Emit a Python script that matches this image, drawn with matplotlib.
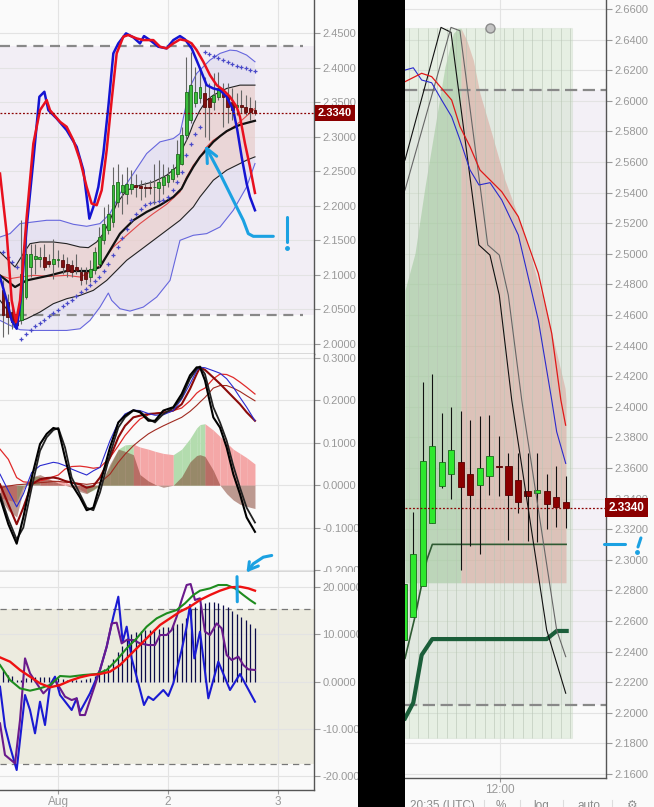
import numpy as np
import matplotlib.pyplot as plt
from matplotlib.patches import Rectangle
from matplotlib.lines import Line2D

plt.rcParams['font.family'] = ['Liberation Sans', 'DejaVu Sans']

# ---------------- left chart: hourly candles, x = hours after Aug 1 00:00 ----------------
candle_hours = np.arange(-12, 44)
opens = [2.0776, 2.0607, 2.0462, 2.0438, 2.0341, 2.0679, 2.1114, 2.1235, 2.1235, 2.1258,
         2.1196, 2.1162, 2.1211, 2.1220, 2.1162, 2.1138, 2.1114, 2.1041, 2.1041, 2.0969,
         2.1065, 2.1162, 2.1500, 2.1645, 2.1766, 2.2056, 2.2201, 2.2176, 2.2249, 2.2297,
         2.2283, 2.2273, 2.2273, 2.2268, 2.2263, 2.2297, 2.2346, 2.2394, 2.2466, 2.2611,
         2.3022, 2.3239, 2.3481, 2.3553, 2.3625, 2.3553, 2.3505, 2.3577, 2.3625, 2.3601,
         2.3505, 2.3432, 2.3456, 2.3432, 2.3408, 2.3384]
closes = [2.0414, 2.0390, 2.0317, 2.0269, 2.1017, 2.1307, 2.1307, 2.1268, 2.1258, 2.1114,
          2.1162, 2.1235, 2.1230, 2.1114, 2.1056, 2.1041, 2.1075, 2.0920, 2.0945, 2.1089,
          2.1331, 2.1548, 2.1742, 2.1887, 2.2297, 2.2346, 2.2297, 2.2321, 2.2311, 2.2273,
          2.2263, 2.2263, 2.2263, 2.2273, 2.2346, 2.2418, 2.2442, 2.2539, 2.2756, 2.3022,
          2.3650, 2.3746, 2.3650, 2.3712, 2.3432, 2.3432, 2.3601, 2.3698, 2.3577, 2.3432,
          2.3384, 2.3456, 2.3432, 2.3360, 2.3360, 2.3340]
highs = [2.0920, 2.0728, 2.0534, 2.0486, 2.1790, 2.1838, 2.1452, 2.1452, 2.1403, 2.1452,
         2.1307, 2.1524, 2.1355, 2.1307, 2.1258, 2.1211, 2.1307, 2.1114, 2.1114, 2.1211,
         2.1403, 2.1693, 2.1983, 2.2032, 2.2563, 2.2611, 2.2466, 2.2563, 2.2514, 2.2466,
         2.2370, 2.2346, 2.2370, 2.2611, 2.2659, 2.2611, 2.2563, 2.2611, 2.2949, 2.3143,
         2.4157, 2.4229, 2.4012, 2.3964, 2.3867, 2.3770, 2.3915, 2.3940, 2.3770, 2.3770,
         2.3698, 2.3625, 2.3674, 2.3601, 2.3577, 2.3529]
lows = [2.0100, 2.0148, 2.0220, 2.0245, 2.0293, 2.0655, 2.0969, 2.1017, 2.1114, 2.1065,
        2.1114, 2.0945, 2.1114, 2.1017, 2.0969, 2.0969, 2.1017, 2.0848, 2.0872, 2.0896,
        2.1017, 2.1114, 2.1452, 2.1597, 2.1693, 2.1983, 2.1887, 2.2032, 2.2176, 2.2128,
        2.2080, 2.2128, 2.2176, 2.2032, 2.2080, 2.2176, 2.2273, 2.2346, 2.2418, 2.2587,
        2.2949, 2.3191, 2.3432, 2.3481, 2.2998, 2.2949, 2.3384, 2.3529, 2.3143, 2.3191,
        2.3239, 2.3312, 2.3336, 2.3312, 2.3239, 2.3312]
psar = [2.1331, 2.1258, 2.1186, 2.1114, 2.0076, 2.0148, 2.0196, 2.0254, 2.0303, 2.0351,
        2.0399, 2.0448, 2.0496, 2.0544, 2.0592, 2.0641, 2.0689, 2.0747, 2.0795, 2.0848,
        2.0906, 2.0969, 2.1056, 2.1162, 2.1283, 2.1404, 2.1539, 2.1669, 2.1790, 2.1887,
        2.1959, 2.2008, 2.2041, 2.2061, 2.2066, 2.2080, 2.2128, 2.2225, 2.2346, 2.2491,
        2.2732, 2.2901, 2.3046, 2.3143, 2.4229, 2.4196, 2.4167, 2.4133, 2.4104, 2.4075,
        2.4051, 2.4026, 2.4007, 2.3988, 2.3968, 2.3954]
last_price = 2.3340
day_ticks = [0, 24, 48]
day_labels = ['Aug', '2', '3']
range_hi, range_lo = 2.4311, 2.0413

# fast / slow lines drawn over price
fast_x = [-12.66, -11.20, -10.11, -9.02, -8.15, -6.84, -5.38, -4.07, -2.98, -2.11, -0.29, 1.89, 4.07,
          5.53, 6.84, 7.71, 8.80, 9.89, 10.98, 12.07, 13.16, 14.84, 16.44, 17.89, 18.76, 20.07,
          21.89, 23.71, 25.16, 26.62, 27.71, 29.16, 30.98, 32.44, 33.89, 35.35, 36.80, 38.25,
          39.13, 40.07, 41.16, 41.89, 42.98]
fast_y = [2.0969, 2.0631, 2.0341, 2.0220, 2.0631, 2.1693, 2.2660, 2.3577, 2.3650, 2.3384, 2.3263,
          2.3094, 2.2853, 2.2515, 2.1814, 2.1983, 2.2273, 2.2756, 2.3432, 2.4205, 2.4350, 2.4495,
          2.4437, 2.4350, 2.4456, 2.4398, 2.4302, 2.4278, 2.4398, 2.4456, 2.4408, 2.4278, 2.3988,
          2.3746, 2.3698, 2.3674, 2.3577, 2.3384, 2.3094, 2.2708, 2.2321, 2.2128, 2.1935]
slow_x = [-12.66, -11.20, -10.11, -9.17, -8.29, -6.84, -5.38, -3.93, -2.47, -1.75, 0.44, 1.89, 3.34,
          4.80, 6.25, 7.34, 8.44, 9.53, 10.62, 11.71, 12.80, 14.25, 15.34, 17.16, 18.62, 20.80,
          22.25, 23.71, 25.16, 26.62, 28.07, 29.16, 30.25, 31.71, 33.16, 34.62, 36.07, 37.53,
          38.98, 39.71, 40.80, 41.89, 42.98]
slow_y = [2.2466, 2.1597, 2.0631, 2.0317, 2.0631, 2.1838, 2.2901, 2.3384, 2.3529, 2.3384, 2.3215,
          2.3143, 2.2949, 2.2660, 2.2273, 2.2032, 2.2008, 2.2225, 2.2804, 2.3529, 2.4205, 2.4447,
          2.4471, 2.4422, 2.4398, 2.4398, 2.4302, 2.4278, 2.4350, 2.4408, 2.4389, 2.4350, 2.4253,
          2.4084, 2.3891, 2.3746, 2.3674, 2.3577, 2.3432, 2.3287, 2.2901, 2.2563, 2.2186]

# moving average and envelope
mid_x = [-12.66, -9.38, -6.84, -1.75, 1.89, 6.98, 9.16, 11.34, 13.53, 16.44, 19.34, 22.25, 25.16,
         26.98, 28.07, 29.53, 30.98, 32.44, 33.89, 35.35, 36.80, 38.25, 39.71, 41.53, 42.98]
mid_y = [2.0993, 2.0824, 2.0920, 2.0993, 2.1056, 2.1056, 2.1114, 2.1355, 2.1597, 2.1790, 2.1911,
         2.2008, 2.2128, 2.2249, 2.2394, 2.2563, 2.2708, 2.2814, 2.2925, 2.3007, 2.3080, 2.3128,
         2.3172, 2.3205, 2.3230]
env_up_x = [-12.66, -9.38, -7.57, -6.11, -3.93, -1.02, 1.89, 4.80, 6.62, 8.44, 9.89, 11.34, 12.80,
            14.98, 17.89, 20.80, 23.71, 25.89, 27.34, 28.43, 29.53, 30.98, 32.44, 33.89, 35.35,
            36.80, 38.25, 39.71, 42.98]
env_up_y = [2.1331, 2.1114, 2.1307, 2.1452, 2.1476, 2.1476, 2.1452, 2.1403, 2.1394, 2.1476, 2.1597,
            2.1790, 2.2032, 2.2225, 2.2297, 2.2346, 2.2442, 2.2563, 2.2853, 2.2998, 2.3191, 2.3384,
            2.3529, 2.3601, 2.3650, 2.3698, 2.3722, 2.3746, 2.3746]
env_lo_x = [-12.66, -9.02, -6.84, -3.93, -1.02, 1.89, 4.80, 7.71, 10.62, 12.80, 14.98, 17.89, 20.80,
            23.71, 26.62, 29.53, 30.98, 32.44, 33.89, 35.35, 36.80, 38.25, 39.71, 41.16, 42.98]
env_lo_y = [2.0631, 2.0317, 2.0365, 2.0462, 2.0583, 2.0655, 2.0703, 2.0776, 2.0920, 2.1065, 2.1211,
            2.1355, 2.1500, 2.1645, 2.1790, 2.1983, 2.2128, 2.2249, 2.2370, 2.2442, 2.2515, 2.2563,
            2.2611, 2.2660, 2.2708]
ema_x = [-12.66, -10.47, -8.29, -5.38, -1.75, 1.89, 4.80, 6.98, 9.16, 12.07, 14.98, 17.89, 20.80,
         23.71, 26.62, 28.07, 29.53, 30.98, 32.44, 33.89, 36.80, 39.71, 42.98]
ema_y = [2.0993, 2.0945, 2.0969, 2.0993, 2.0979, 2.0993, 2.0969, 2.1041, 2.1138, 2.1403, 2.1573,
         2.1742, 2.1887, 2.2022, 2.2201, 2.2418, 2.2587, 2.2708, 2.2853, 2.2949, 2.3070, 2.3215,
         2.3408]
bb_up_x = [-12.66, -10.47, -8.29, -5.38, -2.47, 0.44, 3.34, 6.25, 9.16, 11.34, 13.53, 16.44, 19.34,
           22.25, 25.16, 26.62, 27.71, 28.80, 30.25, 31.71, 33.16, 35.35, 37.53, 38.98, 41.16, 42.98]
bb_up_y = [2.1548, 2.1597, 2.1742, 2.1766, 2.1790, 2.1790, 2.1732, 2.1703, 2.1742, 2.1887, 2.2176,
           2.2466, 2.2756, 2.2925, 2.2973, 2.3046, 2.3384, 2.3722, 2.3915, 2.4012, 2.4109, 2.4205,
           2.4253, 2.4244, 2.4181, 2.4084]
bb_lo_x = [-12.66, -10.47, -8.29, -5.38, -1.75, 1.89, 4.80, 6.98, 9.16, 10.98, 11.71, 13.53, 15.71,
           18.62, 21.53, 24.44, 26.62, 29.53, 32.44, 35.35, 38.25, 41.16, 42.98]
bb_lo_y = [2.0341, 2.0269, 2.0206, 2.0196, 2.0196, 2.0196, 2.0220, 2.0341, 2.0534, 2.0737, 2.0631,
           2.0510, 2.0476, 2.0534, 2.0679, 2.0920, 2.1500, 2.1573, 2.1597, 2.1693, 2.1935, 2.2273,
           2.2611]

# ---------------- middle pane (oscillator) ----------------
osc_x = [-12.66, -10.84, -9.02, -7.57, -5.75, -3.93, -2.47, -1.02, 0.07, 1.53, 2.98, 4.80, 6.25,
         7.71, 9.16, 11.34, 13.16, 14.62, 16.44, 17.89, 19.71, 21.16, 22.98, 25.16, 26.98, 28.80,
         30.25, 30.98, 32.07, 33.89, 35.35, 36.80, 38.25, 39.71, 41.16, 42.98]
osc_fast1 = [-0.029, -0.092, -0.138, -0.076, 0.018, 0.097, 0.121, 0.135, 0.132, 0.065, 0.002, -0.029,
             -0.059, -0.053, 0.002, 0.089, 0.148, 0.164, 0.177, 0.172, 0.152, 0.152, 0.176, 0.184,
             0.215, 0.259, 0.278, 0.278, 0.247, 0.160, 0.136, 0.089, 0.026, -0.021, -0.076, -0.110]
osc_fast2 = [-0.021, -0.080, -0.128, -0.100, -0.006, 0.081, 0.113, 0.130, 0.135, 0.089, 0.018, -0.021,
             -0.053, -0.059, -0.017, 0.073, 0.136, 0.160, 0.176, 0.174, 0.156, 0.148, 0.168, 0.182,
             0.207, 0.251, 0.274, 0.280, 0.262, 0.184, 0.148, 0.105, 0.046, -0.006, -0.053, -0.088]
osc_blue = [0.026, -0.013, -0.051, -0.021, 0.030, 0.046, 0.050, 0.054, 0.052, 0.046, 0.038, 0.030,
            0.024, 0.034, 0.042, 0.105, 0.148, 0.168, 0.177, 0.176, 0.169, 0.165, 0.166, 0.176,
            0.203, 0.239, 0.270, 0.278, 0.277, 0.270, 0.264, 0.251, 0.231, 0.207, 0.184, 0.152]
osc_darkred = [0.002, -0.045, -0.092, -0.053, 0.002, 0.014, 0.017, 0.018, 0.016, 0.010, 0.006, 0.002,
               -0.006, -0.002, 0.018, 0.065, 0.113, 0.140, 0.160, 0.164, 0.168, 0.169, 0.171, 0.176,
               0.191, 0.227, 0.262, 0.278, 0.272, 0.254, 0.239, 0.223, 0.207, 0.191, 0.172, 0.152]
osc_red = [0.085, 0.061, 0.018, 0.008, 0.006, 0.010, 0.014, 0.020, 0.024, 0.038, 0.044, 0.045,
           0.043, 0.040, 0.042, 0.065, 0.093, 0.117, 0.140, 0.156, 0.166, 0.169, 0.172, 0.176,
           0.182, 0.199, 0.217, 0.223, 0.229, 0.251, 0.262, 0.261, 0.254, 0.243, 0.231, 0.215]
osc_brown = [-0.006, -0.002, 0.001, 0.002, 0.004, 0.006, 0.007, 0.009, 0.009, 0.007, 0.006, 0.004,
             0.002, 0.004, 0.006, 0.026, 0.054, 0.073, 0.093, 0.106, 0.121, 0.130, 0.140, 0.151,
             0.160, 0.174, 0.188, 0.196, 0.207, 0.229, 0.235, 0.235, 0.229, 0.221, 0.211, 0.199]
hist_a = [-0.030, -0.035, -0.040, 0.000, 0.020, 0.020, 0.015, 0.012, 0.010, 0.008, 0.000, -0.010,
          -0.018, -0.012, 0.000, 0.045, 0.085, 0.095, 0.097, 0.090, 0.085, 0.080, 0.075, 0.072,
          0.085, 0.110, 0.135, 0.143, 0.145, 0.130, 0.115, 0.100, 0.085, 0.075, 0.065, 0.050]
hist_b = [-0.030, -0.060, -0.075, -0.010, 0.020, 0.025, 0.018, 0.010, 0.005, 0.000, -0.005, -0.015,
          -0.020, -0.010, 0.000, 0.050, 0.085, 0.080, 0.072, 0.025, 0.010, 0.002, -0.005, 0.000,
          0.020, 0.055, 0.070, 0.072, 0.068, 0.035, 0.000, -0.020, -0.035, -0.045, -0.050, -0.055]

# ---------------- bottom pane ----------------
bar_vals = [2.5, 1.4, 1.1, 0.4, 0.4, 0.7, 0.9, 0.9, 0.9, 0.9,
            0.9, 0.7, 0.7, 0.5, 0.4, 0.35, 0.3, 0.3, 0.5, 0.7,
            1.2, 1.8, 2.6, 3.5, 4.9, 6.3, 7.5, 9.2, 10.1, 10.6,
            10.7, 10.9, 10.9, 11.1, 11.2, 11.5, 11.6, 11.9, 12.2, 12.5,
            13.4, 15.3, 15.7, 16.2, 16.6, 16.8, 16.8, 16.6, 16.2, 15.7,
            15.0, 14.4, 13.7, 13.0, 12.2, 11.3]
band_hi, band_lo = 15.3, -17.4
sig_green_x = [-12.66, -10.47, -8.29, -6.11, -3.93, -1.75, 0.44, 2.62, 5.53, 8.44, 10.62, 12.80, 14.98,
               17.16, 19.34, 21.53, 23.71, 25.89, 27.71, 29.53, 30.98, 33.16, 34.98, 36.80, 38.62,
               40.44, 41.89, 42.98]
sig_green_y = [3.52, 0.35, -1.41, -1.90, -1.41, -0.70, 1.20, 1.06, 1.41, 1.62, 2.47, 4.58, 7.05, 9.16,
               11.63, 13.39, 14.45, 15.15, 16.56, 18.32, 19.24, 19.73, 20.44, 20.44, 19.73, 18.32,
               17.27, 16.56]
sig_red_x = [-12.66, -10.47, -8.29, -6.11, -3.93, -1.75, 0.44, 2.62, 4.80, 6.98, 9.16, 11.34, 13.53,
             15.71, 17.89, 20.07, 22.25, 24.44, 26.62, 28.80, 30.98, 33.16, 35.35, 37.53, 39.71,
             41.53, 42.98]
sig_red_y = [5.14, 4.23, 2.47, 1.06, -0.35, -1.20, -0.70, 0.21, 0.92, 1.41, 1.62, 2.11, 3.52, 5.64,
             7.75, 9.87, 11.98, 13.39, 14.80, 15.86, 17.27, 18.32, 19.24, 19.94, 20.08, 19.73, 19.24]
purple_x = [-12.66, -11.57, -9.38, -8.29, -7.20, -6.11, -4.66, -3.20, -1.75, -0.66, 0.44, 1.53, 2.98,
            4.07, 4.80, 5.89, 7.34, 9.16, 10.62, 11.71, 12.80, 13.89, 14.98, 16.44, 17.89, 19.71,
            21.16, 22.25, 23.71, 24.80, 25.89, 26.98, 28.07, 28.94, 29.89, 30.98, 32.07, 33.16,
            34.62, 35.71, 36.80, 37.89, 39.35, 40.44, 41.53, 42.98]
purple_y = [-8.81, -15.50, -17.27, -8.10, 4.93, 1.76, -0.35, -2.47, -1.06, 0.35, -1.41, -3.17, -3.88,
            -3.52, -7.05, -7.05, -2.82, 2.47, 7.40, 12.33, 12.47, 8.10, 8.81, 8.81, 8.10, 7.75, 7.75,
            9.87, 9.87, 10.92, 13.74, 17.27, 20.44, 20.65, 17.27, 17.62, 10.57, 9.87, 12.33, 11.28,
            5.64, 4.58, 5.29, 3.52, 2.61, 2.47]
blue_x = [-12.66, -11.57, -10.47, -9.02, -7.20, -6.11, -5.02, -3.93, -2.84, -1.75, -0.66, 0.44, 2.98,
          4.07, 4.80, 6.98, 9.16, 10.62, 12.07, 13.16, 14.11, 14.98, 16.07, 17.53, 18.76, 19.71,
          20.80, 22.98, 24.07, 25.16, 26.98, 28.07, 28.80, 29.74, 30.98, 32.80, 34.98, 37.53,
          39.71, 42.98]
blue_y = [-1.06, -9.51, -13.74, -18.68, -2.82, -5.99, -10.92, -4.23, -9.16, -0.70, 1.06, -2.82, -5.99,
          -3.52, -6.34, -2.47, 2.47, 7.40, 13.74, 17.97, 8.46, 11.63, 4.93, -0.35, -4.93, -3.17,
          -3.88, -1.76, -3.03, -0.35, 6.69, 11.63, 16.21, 4.93, 10.57, -3.52, 4.23, -1.76, 1.62,
          -4.23]

# ---------------- right chart (zoomed candles, x = bar index) ----------------
r_idx = np.arange(-1, 17)
r_open = [2.2476, 2.2624, 2.2827, 2.3239, 2.3484, 2.3564, 2.3639, 2.3561, 2.3491, 2.3546,
          2.3612, 2.3611, 2.3520, 2.3450, 2.3435, 2.3450, 2.3409, 2.3376]
r_close = [2.2840, 2.3036, 2.3646, 2.3742, 2.3639, 2.3718, 2.3478, 2.3426, 2.3600, 2.3676,
           2.3606, 2.3426, 2.3380, 2.3417, 2.3454, 2.3367, 2.3347, 2.3340]
r_high = [2.2840, 2.3310, 2.4164, 2.4214, 2.3961, 2.3999, 2.3973, 2.3914, 2.3940, 2.3946,
          2.3809, 2.3696, 2.3696, 2.3696, 2.3696, 2.3561, 2.3613, 2.3548]
r_low = [2.2476, 2.2624, 2.2827, 2.3239, 2.3471, 2.3397, 2.2933, 2.3092, 2.3036, 2.3424,
         2.3419, 2.3129, 2.3308, 2.3123, 2.3117, 2.3203, 2.3212, 2.3210]
r_black_x = [-0.87, 2.91, 3.96, 6.89, 8.05, 9.03, 10.34, 14.01, 16.01]
r_black_y = [2.5613, 2.6480, 2.6448, 2.5058, 2.4992, 2.4731, 2.4044, 2.2541, 2.2128]
r_gray_x = [-0.87, 3.96, 4.90, 7.82, 9.03, 9.98, 11.39, 15.06, 16.01]
r_gray_y = [2.5417, 2.6480, 2.6458, 2.5058, 2.4992, 2.4731, 2.4044, 2.2541, 2.2367]
r_blue_x = [-0.87, 0.0, 0.88, 1.93, 2.98, 4.03, 4.91, 5.96, 6.90, 8.06, 9.29, 11.03, 13.13, 14.54,
            15.06, 16.01]
r_blue_y = [2.6201, 2.6216, 2.6136, 2.6118, 2.6005, 2.5896, 2.5744, 2.5548, 2.5450, 2.5465, 2.5352,
            2.5123, 2.4567, 2.4044, 2.3837, 2.3630]
r_red_x = [-0.87, 0.88, 1.93, 4.03, 4.91, 5.96, 7.00, 9.29, 11.03, 13.13, 14.54, 15.50, 16.00]
r_red_y = [2.6125, 2.6180, 2.6158, 2.6005, 2.5831, 2.5700, 2.5548, 2.5406, 2.5243, 2.4873, 2.4480,
           2.4044, 2.3880]
r_sup_x = [-0.87, 0.18, 1.42, 2.00, 16.05]
r_sup_y = [2.2356, 2.2628, 2.2999, 2.3101, 2.3101]
r_stop_x = [-0.87, 0.0, 0.88, 1.99, 14.01, 15.06, 16.11]
r_stop_y = [2.1964, 2.2066, 2.2378, 2.2482, 2.2482, 2.2535, 2.2535]
green_zone_x = [-0.87, 0.18, 1.23, 2.28, 3.33, 4.20, 4.73, 5.01]
green_zone_top = [2.4763, 2.5003, 2.5439, 2.5831, 2.6223, 2.6441, 2.6474, 2.6474]
red_zone_x = [5.01, 5.61, 6.30, 7.00, 8.23, 9.63, 11.03, 12.44, 13.83, 15.06, 15.94, 16.04]
red_zone_top = [2.6474, 2.6397, 2.6267, 2.6049, 2.5788, 2.5482, 2.5243, 2.4960, 2.4654, 2.4350,
                2.4121, 2.4044]
zone_floor = 2.285
box_top, box_bottom, box_end = 2.6474, 2.1837, 16.64
r_range_hi, r_range_lo = 2.6069, 2.2049
marker_pt = (8.06, 2.6478)

# hand drawn notes (cyan)
note1_x = [32.45, 35.35, 38.25, 40.43, 41.52, 42.61, 46.98]
note1_y = [2.2829, 2.2466, 2.2079, 2.1790, 2.1597, 2.1558, 2.1558]
note2_x = [46.63, 44.80, 42.61, 41.53]
note2_y = [-0.1657, -0.1697, -0.1853, -0.2000]
CYAN = '#1ba1e2'
BG = '#fafafa'

fig = plt.figure(figsize=(6.54, 8.07), dpi=100, facecolor=BG)


def px_axes(x0, y0, x1, y1):
    return fig.add_axes([x0 / 654, 1 - y1 / 807, (x1 - x0) / 654, (y1 - y0) / 807])


def style(ax, yticks):
    ax.set_facecolor(BG)
    for s in ['left', 'top']:
        ax.spines[s].set_visible(False)
    for s in ['right', 'bottom']:
        ax.spines[s].set_color('#555555')
        ax.spines[s].set_linewidth(1.0)
    ax.yaxis.tick_right()
    ax.set_yticks(yticks)
    ax.set_yticklabels(['{:.4f}'.format(v) for v in yticks])
    ax.tick_params(axis='y', direction='out', length=4, width=0.8, color='#999999',
                   labelcolor='#999999', labelsize=8, pad=2)
    ax.grid(True, color='#e3e3e3', lw=0.8)
    ax.set_axisbelow(True)


def candles(ax, x, o, h, l, c, width, up, down, up_edge, down_edge, wick, z=3):
    o, h, l, c = map(np.asarray, (o, h, l, c))
    rising = c >= o
    ax.vlines(x, l, h, color=wick, lw=0.8, zorder=z)
    ax.bar(x, np.maximum(np.abs(c - o), 0.0007), width, np.minimum(o, c),
           color=np.where(rising, up, down), edgecolor=np.where(rising, up_edge, down_edge),
           lw=0.6, zorder=z + 0.1)


ax1 = px_axes(0, 0, 314, 354)
ax2 = px_axes(0, 354, 314, 572)
ax3 = px_axes(0, 572, 314, 790)
axr = px_axes(405, 0, 606, 778)

for ax in (ax1, ax2, ax3):
    ax.set_xlim(-12.66, 55.86)
    ax.set_xticks(day_ticks)
style(ax1, np.round(np.arange(2.0, 2.451, 0.05), 2))
style(ax2, np.round(np.arange(-0.2, 0.31, 0.1), 1))
style(ax3, [-20, -10, 0, 10, 20])
ax1.set_ylim(1.9855, 2.4978)
ax2.set_ylim(-0.2047, 0.3094)
ax3.set_ylim(-22.9, 23.19)
for ax in (ax1, ax2):
    ax.tick_params(axis='x', length=0, labelbottom=False)
ax3.set_xticklabels(day_labels)
ax3.tick_params(axis='x', direction='out', length=3, color='#999999', labelcolor='#999999',
                labelsize=8.5, pad=1.5)

# ---- price pane ----
ax1.axhspan(range_lo, range_hi, color='#f2eef5', lw=0, zorder=0.1)
ax1.plot([-12.66, 53.46], [range_hi, range_hi], color='#888888', lw=1.6, ls=(0, (4.5, 3)), zorder=1.5)
ax1.plot([-12.66, 53.46], [range_lo, range_lo], color='#888888', lw=1.6, ls=(0, (4.5, 3)), zorder=1.5)
ax1.fill(bb_up_x + bb_lo_x[::-1], bb_up_y + bb_lo_y[::-1], color='#d2cceb', alpha=0.35, lw=0, zorder=1)
ax1.fill(env_up_x + env_lo_x[::-1], env_up_y + env_lo_y[::-1], color='#efcbbf', alpha=0.5, lw=0, zorder=1.1)
ax1.plot(bb_up_x, bb_up_y, color='#6666dd', lw=0.8, zorder=2)
ax1.plot(bb_lo_x, bb_lo_y, color='#6666dd', lw=0.8, zorder=2)
ax1.plot(env_up_x, env_up_y, color='#222222', lw=0.8, zorder=2)
ax1.plot(env_lo_x, env_lo_y, color='#222222', lw=0.8, zorder=2)
ax1.plot(ema_x, ema_y, color='#e04848', lw=0.8, zorder=2)
ax1.plot(mid_x, mid_y, color='#111111', lw=1.6, zorder=2.2)
ax1.plot(candle_hours, psar, ls='none', marker='+', ms=3.2, mew=0.9, color='#4a4ac8', zorder=2.5)
candles(ax1, candle_hours, opens, highs, lows, closes, 0.62, '#3cbd3c', '#7e1010', '#1d6b1d',
        '#5a0a0a', '#666666')
ax1.plot(fast_x, fast_y, color='#1414d2', lw=1.8, zorder=4)
ax1.plot(slow_x, slow_y, color='#e8101e', lw=1.8, zorder=4.1)
ax1.axhline(last_price, color='#8b0000', lw=0.9, ls=(0, (1.5, 1.5)), zorder=4.5)
ax1.plot(note1_x, note1_y, color=CYAN, lw=2.2, solid_capstyle='round', solid_joinstyle='round', zorder=6)
ax1.plot([32.45, 34.62], [2.2829, 2.2717], color=CYAN, lw=2.2, solid_capstyle='round', zorder=6)
ax1.plot([32.45, 32.58], [2.2829, 2.2611], color=CYAN, lw=2.2, solid_capstyle='round', zorder=6)
ax1.plot([50.03, 50.03], [2.1837, 2.1470], color=CYAN, lw=2.2, solid_capstyle='round', zorder=6)
ax1.plot([50.03], [2.1388], 'o', color=CYAN, ms=2.5, zorder=6)
ax1.text(1.013, last_price, '2.3340', transform=ax1.get_yaxis_transform(), ha='left', va='center',
         color='white', fontsize=8, fontweight='bold', clip_on=False, zorder=10,
         bbox=dict(boxstyle='square,pad=0.28', fc='#8b0000', ec='none'))

# ---- oscillator pane ----
for i in range(len(osc_x) - 1):
    col = '#b3dcae' if hist_a[i + 1] >= hist_a[i] else '#f4a7a7'
    ax2.fill_between(osc_x[i:i + 2], 0, hist_a[i:i + 2], color=col, lw=0, zorder=1)
ax2.fill_between(osc_x, 0, hist_b, color='#7a2f1e', alpha=0.48, lw=0, zorder=1.2)
ax2.plot(osc_x, osc_brown, color='#a02a20', lw=0.8, zorder=2)
ax2.plot(osc_x, osc_red, color='#e02a2a', lw=0.9, zorder=2)
ax2.plot(osc_x, osc_darkred, color='#8b0a0a', lw=1.5, zorder=2.2)
ax2.plot(osc_x, osc_blue, color='#2a2ad0', lw=0.8, zorder=2.3)
ax2.plot(osc_x, osc_fast2, color='#222222', lw=1.3, zorder=2.4)
ax2.plot(osc_x, osc_fast1, color='#000000', lw=1.5, zorder=2.5)
ax2.plot(note2_x, note2_y, color=CYAN, lw=2.2, solid_capstyle='round', clip_on=False, zorder=6)
ax2.plot([41.53, 41.75], [-0.2000, -0.1804], color=CYAN, lw=2.2, solid_capstyle='round', clip_on=False, zorder=6)
ax2.plot([41.53, 43.71], [-0.2000, -0.1906], color=CYAN, lw=2.2, solid_capstyle='round', clip_on=False, zorder=6)

# ---- bottom pane ----
ax3.axhspan(band_lo, band_hi, color='#ecebdf', lw=0, zorder=0.1)
ax3.axhline(band_hi, color='#777777', lw=0.9, ls=(0, (5, 4)), zorder=1.5)
ax3.axhline(band_lo, color='#777777', lw=0.9, ls=(0, (5, 4)), zorder=1.5)
ax3.vlines(candle_hours, 0, bar_vals, color='#0c0c4a', lw=0.9, zorder=2)
ax3.plot(blue_x, blue_y, color='#1a1ad2', lw=1.5, zorder=3)
ax3.plot(purple_x, purple_y, color='#6a1a8c', lw=1.5, zorder=3.1)
ax3.plot(sig_green_x, sig_green_y, color='#1e8c1e', lw=1.5, zorder=3.2)
ax3.plot(sig_red_x, sig_red_y, color='#ee1111', lw=1.7, zorder=3.3)
ax3.plot([39.06, 39.12], [22.2, 16.9], color=CYAN, lw=2.2, solid_capstyle='round', zorder=6)

# ---- right chart ----
style(axr, np.round(np.arange(2.16, 2.6601, 0.02), 2))
axr.set_xlim(-0.87, 20.24)
axr.set_ylim(2.1574, 2.6659)
axr.set_xticks([9.11])
axr.set_xticklabels(['12:00'])
axr.tick_params(axis='x', direction='out', length=3, color='#999999', labelcolor='#999999',
                labelsize=8.5, pad=1.5)
axr.axhspan(r_range_lo, r_range_hi, color='#f3f0f6', lw=0, zorder=0.1)
axr.add_patch(Rectangle((-0.87, box_bottom), box_end + 0.87, box_top - box_bottom,
                        fc='#b8d8b0', alpha=0.3, lw=0.8, ec='#c8d8c4', zorder=0.6))
axr.fill_between(green_zone_x, zone_floor, green_zone_top, color='#8fc08a', alpha=0.45, lw=0, zorder=1)
axr.fill_between(red_zone_x, zone_floor, red_zone_top, color='#d8948a', alpha=0.45, lw=0, zorder=1)
axr.vlines(np.arange(-0.5, 17, 1.0), box_bottom, box_top, color='#b9c6b6', lw=0.6, alpha=0.7, zorder=1.1)
axr.axhline(r_range_hi, color='#888888', lw=1.6, ls=(0, (5.5, 2.5)), zorder=1.5)
axr.axhline(r_range_lo, color='#888888', lw=1.6, ls=(0, (5.5, 2.5)), zorder=1.5)
axr.plot(r_sup_x, r_sup_y, color='#2e5a32', lw=1.2, zorder=2)
axr.plot(r_stop_x, r_stop_y, color='#1b5e3a', lw=3.0, solid_joinstyle='round', zorder=2)
candles(axr, r_idx, r_open, r_high, r_low, r_close, 0.64, '#2ee82e', '#8b0000', '#1a6a1a',
        '#5a0000', '#111111')
axr.plot(r_black_x, r_black_y, color='#111111', lw=0.8, zorder=4)
axr.plot(r_gray_x, r_gray_y, color='#666666', lw=0.8, zorder=4)
axr.plot(r_blue_x, r_blue_y, color='#2a2acc', lw=0.8, zorder=4)
axr.plot(r_red_x, r_red_y, color='#e01818', lw=0.9, zorder=4)
axr.plot([marker_pt[0]], [marker_pt[1]], 'o', ms=6.5, mfc='#c4c4c4', mec='#8a8a8a', mew=1, zorder=5)
axr.axhline(last_price, color='#8b0000', lw=0.9, ls=(0, (1.5, 1.5)), zorder=4.5)
axr.text(1.013, last_price, '2.3340', transform=axr.get_yaxis_transform(), ha='left', va='center',
         color='white', fontsize=8.5, fontweight='bold', clip_on=False, zorder=10,
         bbox=dict(boxstyle='square,pad=0.3', fc='#8b0000', ec='none'))
axr.plot([20.03, 22.23], [2.3103, 2.3103], color=CYAN, lw=2.2, solid_capstyle='round', clip_on=False, zorder=6)
axr.plot([23.91, 23.60], [2.3143, 2.3084], color=CYAN, lw=2.2, solid_capstyle='round', clip_on=False, zorder=6)
axr.plot([23.45], [2.3050], 'o', color=CYAN, ms=2.5, clip_on=False, zorder=6)

# label strip below the middle pane hides the lower half of its last label
ax3.set_zorder(1)
fig.add_artist(Rectangle((315 / 654, 17 / 807), 43 / 654, 218 / 807, transform=fig.transFigure,
                         fc=BG, ec='none', zorder=0.5))

# toolbar under the right chart (cut by the image edge, as in the screenshot)
for txt, xp in [('20:35 (UTC)', 410), ('%', 496), ('log', 533), ('auto', 577), ('\u2699', 627)]:
    fig.text(xp / 654, 1 - 800 / 807, txt, ha='left', va='top', fontsize=8.5, color='#8a8a8a')
for xp in [484, 520, 563, 612]:
    fig.add_artist(Line2D([xp / 654, xp / 654], [0, 7 / 807], transform=fig.transFigure,
                          color='#dddddd', lw=0.8))

# black strip between the two screenshots
fig.add_artist(Rectangle((358 / 654, 0), 47 / 654, 1, transform=fig.transFigure,
                         fc='black', ec='none', zorder=20))

fig.savefig('out.png', dpi=100, facecolor=BG)
